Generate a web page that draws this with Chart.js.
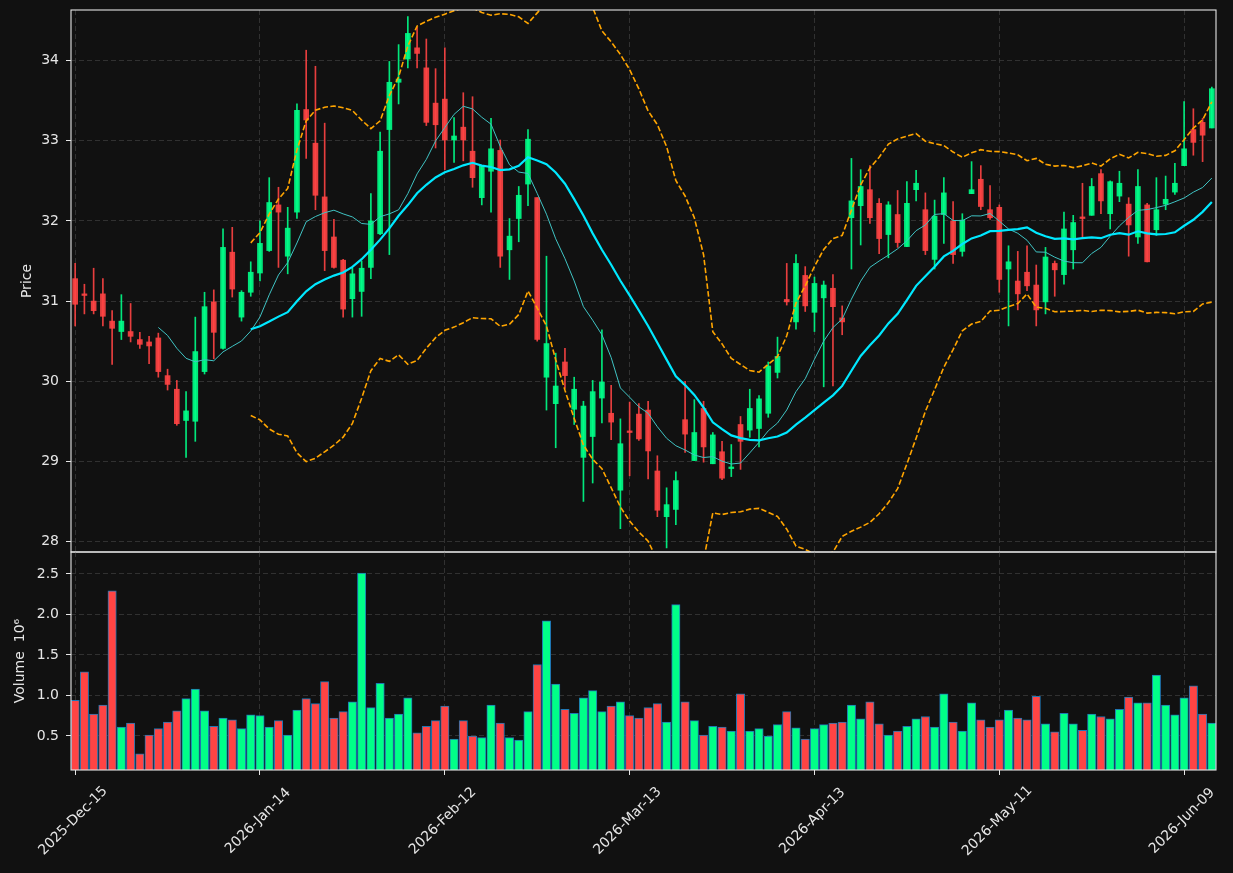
<!DOCTYPE html>
<html>
<head>
<meta charset="utf-8">
<script src="https://cdn.jsdelivr.net/npm/chart.js@4.4.1/dist/chart.umd.min.js"></script>
<style>
  html, body { margin: 0; padding: 0; background: #111111; }
  .wrap { position: relative; width: 1233px; height: 873px; }
  .wrap canvas { position: absolute; left: 0; top: 0; }
</style>
</head>
<body>
<div class="wrap">
  <canvas id="priceChart" width="1233" height="873"></canvas>
  <canvas id="volumeChart" width="1233" height="873"></canvas>
</div>
<script>
// x ticks: every 20th trading day
const tickIndex = [0, 20, 40, 60, 80, 100, 120];
const tickLabels = ['2025-Dec-15', '2026-Jan-14', '2026-Feb-12', '2026-Mar-13', '2026-Apr-13', '2026-May-11', '2026-Jun-09'];

const opens = [31.28, 31.09, 31.00, 31.09, 30.75, 30.62, 30.62, 30.52, 30.49, 30.54,
  30.07, 29.90, 29.51, 29.50, 30.12, 30.99, 30.41, 31.61, 30.80, 31.11,
  31.35, 31.63, 32.20, 31.56, 32.11, 33.39, 32.97, 32.30, 31.80, 31.51,
  31.03, 31.12, 31.42, 31.84, 33.14, 33.73, 34.02, 34.16, 33.91, 33.47,
  33.52, 33.01, 33.17, 32.87, 32.29, 32.62, 32.88, 31.64, 32.03, 32.46,
  32.29, 30.05, 29.72, 30.24, 29.65, 29.05, 29.31, 29.79, 29.60, 28.64,
  29.38, 29.59, 29.64, 28.88, 28.31, 28.40, 29.52, 29.01, 29.66, 28.97,
  29.12, 28.91, 29.46, 29.39, 29.41, 29.60, 30.11, 31.02, 30.74, 31.32,
  30.86, 31.04, 31.16, 30.79, 32.04, 32.19, 32.39, 32.22, 31.83, 32.08,
  31.68, 32.39, 32.14, 31.52, 32.08, 32.00, 31.62, 32.34, 32.52, 32.14,
  32.17, 31.40, 31.25, 31.36, 31.20, 30.99, 31.47, 31.33, 31.64, 32.05,
  32.07, 32.59, 32.09, 32.31, 32.21, 31.80, 32.20, 31.89, 32.21, 32.36,
  32.69, 33.14, 33.23, 33.16];
const highs = [31.47, 31.21, 31.41, 31.28, 30.88, 31.08, 30.97, 30.61, 30.56, 30.60,
  30.15, 30.01, 29.87, 30.80, 31.11, 31.14, 31.90, 31.92, 31.13, 31.49,
  32.00, 32.54, 32.42, 32.17, 33.46, 34.13, 33.93, 33.22, 32.02, 31.52,
  31.41, 31.50, 32.34, 33.11, 33.99, 34.20, 34.55, 34.42, 34.27, 33.90,
  34.16, 33.29, 33.60, 33.55, 32.69, 33.28, 33.01, 32.03, 32.43, 33.14,
  32.29, 31.56, 30.35, 30.41, 30.05, 29.75, 30.01, 30.64, 29.95, 29.53,
  29.74, 29.72, 29.75, 29.07, 28.67, 28.87, 30.00, 29.77, 29.75, 29.36,
  29.25, 29.21, 29.56, 29.90, 29.82, 30.24, 30.55, 31.47, 31.58, 31.43,
  31.30, 31.25, 31.33, 30.94, 32.78, 32.64, 32.69, 32.28, 32.24, 32.38,
  32.49, 32.63, 32.35, 32.26, 32.54, 32.24, 32.09, 32.74, 32.69, 32.44,
  32.20, 31.69, 31.62, 31.69, 31.45, 31.67, 31.50, 32.11, 32.07, 32.47,
  32.53, 32.64, 32.50, 32.62, 32.29, 32.64, 32.22, 32.54, 32.56, 32.72,
  33.49, 33.40, 33.28, 33.67];
const lows = [30.69, 30.84, 30.84, 30.69, 30.21, 30.52, 30.49, 30.41, 30.22, 30.05,
  29.89, 29.45, 29.05, 29.25, 30.09, 30.28, 30.40, 31.05, 30.75, 31.06,
  31.25, 31.62, 31.42, 31.34, 32.03, 32.78, 32.14, 31.38, 31.41, 30.80,
  30.80, 30.81, 31.28, 31.83, 31.58, 33.46, 33.91, 33.91, 33.19, 32.91,
  32.64, 32.73, 32.75, 32.42, 32.20, 32.11, 31.42, 31.27, 31.74, 32.19,
  30.50, 29.64, 29.17, 29.91, 29.46, 28.50, 28.73, 29.48, 29.27, 28.16,
  28.82, 29.26, 28.78, 28.31, 27.92, 28.21, 29.11, 29.01, 28.99, 28.97,
  28.77, 28.81, 28.90, 29.30, 29.18, 29.55, 30.04, 30.95, 30.65, 30.87,
  30.62, 29.93, 29.94, 30.58, 31.40, 31.70, 31.97, 31.59, 31.54, 31.67,
  31.68, 32.25, 31.58, 31.40, 31.72, 31.47, 31.56, 32.34, 32.14, 32.02,
  31.11, 30.69, 30.89, 31.13, 30.69, 30.84, 31.06, 31.21, 31.40, 31.80,
  32.07, 32.09, 31.90, 32.24, 31.56, 31.72, 31.49, 31.82, 32.14, 32.33,
  32.69, 32.82, 32.74, 33.16];
const closes = [30.96, 31.07, 30.88, 30.81, 30.66, 30.75, 30.56, 30.46, 30.44, 30.12,
  29.96, 29.47, 29.63, 30.37, 30.93, 30.61, 31.67, 31.15, 31.11, 31.36,
  31.72, 32.23, 32.11, 31.91, 33.38, 33.26, 32.32, 31.63, 31.42, 30.90,
  31.34, 31.41, 32.00, 32.87, 33.73, 33.77, 34.34, 34.09, 33.23, 33.20,
  33.01, 33.06, 33.01, 32.54, 32.69, 32.90, 31.56, 31.81, 32.32, 33.02,
  30.52, 30.47, 29.94, 30.07, 29.90, 29.69, 29.87, 29.99, 29.49, 29.22,
  29.36, 29.28, 29.13, 28.39, 28.46, 28.76, 29.34, 29.36, 29.18, 29.33,
  28.79, 28.93, 29.25, 29.66, 29.78, 30.19, 30.31, 30.99, 31.47, 30.94,
  31.22, 31.20, 30.93, 30.74, 32.25, 32.43, 32.04, 31.78, 32.20, 31.73,
  32.22, 32.47, 31.63, 32.06, 32.35, 31.58, 32.01, 32.39, 32.18, 32.04,
  31.27, 31.49, 31.09, 31.19, 30.89, 31.55, 31.39, 31.90, 31.98, 32.03,
  32.43, 32.25, 32.49, 32.47, 31.95, 32.43, 31.49, 32.14, 32.27, 32.47,
  32.90, 32.98, 33.07, 33.65];
// volume in millions (axis label carries the 10^6)
const volumes = [0.94, 1.29, 0.77, 0.88, 2.29, 0.61, 0.66, 0.28, 0.51, 0.59,
  0.67, 0.81, 0.96, 1.08, 0.81, 0.62, 0.72, 0.70, 0.59, 0.76,
  0.75, 0.61, 0.69, 0.51, 0.82, 0.96, 0.90, 1.17, 0.72, 0.80,
  0.92, 2.51, 0.85, 1.15, 0.72, 0.77, 0.97, 0.54, 0.62, 0.69,
  0.87, 0.46, 0.69, 0.50, 0.48, 0.88, 0.66, 0.48, 0.45, 0.80,
  1.38, 1.92, 1.14, 0.83, 0.78, 0.97, 1.06, 0.80, 0.87, 0.92,
  0.75, 0.72, 0.85, 0.90, 0.67, 2.12, 0.92, 0.69, 0.51, 0.62,
  0.61, 0.56, 1.02, 0.56, 0.59, 0.50, 0.64, 0.80, 0.60, 0.46,
  0.59, 0.64, 0.66, 0.67, 0.88, 0.71, 0.92, 0.65, 0.51, 0.56,
  0.62, 0.71, 0.74, 0.61, 1.02, 0.67, 0.56, 0.91, 0.70, 0.61,
  0.70, 0.82, 0.72, 0.70, 0.99, 0.65, 0.55, 0.78, 0.65, 0.57,
  0.77, 0.74, 0.71, 0.83, 0.98, 0.91, 0.91, 1.25, 0.88, 0.76,
  0.97, 1.12, 0.77, 0.66];

const priceTicks = [28, 29, 30, 31, 32, 33, 34];
const volumeTicks = [0.5, 1.0, 1.5, 2.0, 2.5];

const FONT = 'DejaVu Sans';
const FG = '#e6e6e6';
const GRID = '#3a3a3a';
Chart.defaults.font.family = FONT;

// indicators: 10/20 moving averages and 20-day bands (2 std)
const mean = a => a.reduce((s, v) => s + v, 0) / a.length;
const std = a => { const m = mean(a); return Math.sqrt(mean(a.map(v => (v - m) ** 2))); };
function rolling(values, n, fn) {
    return values.map((_, i) => i < n - 1 ? null : fn(values.slice(i - n + 1, i + 1)));
}
const ma10 = rolling(closes, 10, mean);
const ma20 = rolling(closes, 20, mean);
const sd20 = rolling(closes, 20, std);
const upper = ma20.map((m, i) => m === null ? null : m + 2 * sd20[i]);
const lower = ma20.map((m, i) => m === null ? null : m - 2 * sd20[i]);
const toPoints = arr => arr.map((y, i) => ({x: i, y: y})).filter(p => p.y !== null);

const isUp = closes.map((c, i) => c >= opens[i]);
const candleColors = isUp.map(u => u ? 'rgba(0, 255, 136, 0.9)' : 'rgba(255, 68, 68, 0.9)');
const volumeColors = isUp.map(u => u ? '#00ff88' : '#ff4444');

const framePlugin = {
    id: 'frame',
    afterDraw(chart) {
        const a = chart.chartArea;
        const ctx = chart.ctx;
        ctx.save();
        ctx.strokeStyle = FG;
        ctx.lineWidth = 1.1;
        ctx.strokeRect(a.left, a.top, a.right - a.left, a.bottom - a.top);
        ctx.restore();
    }
};

const dateLabelPlugin = {
    id: 'dateLabels',
    afterDraw(chart) {
        const ctx = chart.ctx;
        const xs = chart.scales.x;
        ctx.save();
        ctx.fillStyle = FG;
        ctx.font = '14px "' + FONT + '"';
        ctx.textAlign = 'center';
        ctx.textBaseline = 'middle';
        tickIndex.forEach((v, k) => {
            ctx.save();
            ctx.translate(xs.getPixelForValue(v) - 2, 821);
            ctx.rotate(-Math.PI / 4);
            ctx.fillText(tickLabels[k], 0, 0);
            ctx.restore();
        });
        ctx.restore();
    }
};

function xAxis(withTicks) {
    return {
        type: 'linear',
        min: -0.45,
        max: 123.45,
        offset: false,
        afterBuildTicks: s => { s.ticks = tickIndex.map(v => ({value: v})); },
        afterFit: s => { s.height = withTicks ? 5 : 0; s.paddingLeft = 0; s.paddingRight = 0; },
        grid: {
            offset: false,
            color: GRID, lineWidth: 0.8,
            drawTicks: withTicks, tickLength: 5, tickColor: FG, tickWidth: 1, tickBorderDash: []
        },
        border: {display: false, dash: [5, 3]},
        ticks: {display: false}
    };
}

function yAxis(min, max, ticks, fmt, title, titlePad) {
    return {
        type: 'linear',
        min: min,
        max: max,
        afterBuildTicks: s => { s.ticks = ticks.map(v => ({value: v})); },
        afterFit: s => { s.width = 71; s.paddingTop = 0; s.paddingBottom = 0; },
        grid: {
            color: GRID, lineWidth: 0.8,
            drawTicks: true, tickLength: 5, tickColor: FG, tickWidth: 1, tickBorderDash: []
        },
        border: {display: false, dash: [5, 3]},
        ticks: {color: FG, font: {size: 14}, padding: 7, callback: fmt},
        title: {display: true, text: title, color: FG, font: {size: 14}, padding: {top: titlePad, bottom: 0}}
    };
}

const common = {
    responsive: false,
    animation: false,
    events: [],
    plugins: {legend: {display: false}, tooltip: {enabled: false}}
};

const lineStyle = {type: 'line', pointRadius: 0, tension: 0, fill: false, order: 1};

new Chart(document.getElementById('priceChart'), {
    type: 'bar',
    data: {
        datasets: [
            Object.assign({}, lineStyle, {data: toPoints(upper), borderColor: '#ffa500', borderWidth: 1.6, borderDash: [5.5, 2.4]}),
            Object.assign({}, lineStyle, {data: toPoints(lower), borderColor: '#ffa500', borderWidth: 1.6, borderDash: [5.5, 2.4]}),
            Object.assign({}, lineStyle, {data: toPoints(ma20), borderColor: '#00e8ff', borderWidth: 2.2}),
            Object.assign({}, lineStyle, {data: toPoints(ma10), borderColor: '#40c4c4', borderWidth: 1}),
            {
                type: 'bar',
                data: opens.map((o, i) => ({x: i, y: [o, closes[i]]})),
                backgroundColor: candleColors,
                barThickness: 5,
                minBarLength: 1,
                grouped: false,
                order: 3
            },
            {
                type: 'bar',
                data: lows.map((l, i) => ({x: i, y: [l, highs[i]]})),
                backgroundColor: candleColors,
                barThickness: 1,
                grouped: false,
                order: 4
            }
        ]
    },
    options: Object.assign({}, common, {
        layout: {padding: {left: 0, top: 10, right: 17, bottom: 321}},
        scales: {
            x: xAxis(false),
            y: yAxis(27.869, 34.632, priceTicks, v => String(v), 'Price', 18.6)
        }
    }),
    plugins: [framePlugin]
});

new Chart(document.getElementById('volumeChart'), {
    type: 'bar',
    data: {
        datasets: [{
            data: volumes.map((v, i) => ({x: i, y: v})),
            backgroundColor: volumeColors,
            borderColor: '#1f77b4',
            borderWidth: 1,
            barThickness: 8.4,
            grouped: false
        }]
    },
    options: Object.assign({}, common, {
        layout: {padding: {left: 0, top: 552, right: 17, bottom: 98}},
        scales: {
            x: xAxis(true),
            y: yAxis(0.08, 2.77, volumeTicks, v => v.toFixed(1), 'Volume  10\u2076', 11.6)
        }
    }),
    plugins: [framePlugin, dateLabelPlugin]
});
</script>
</body>
</html>
